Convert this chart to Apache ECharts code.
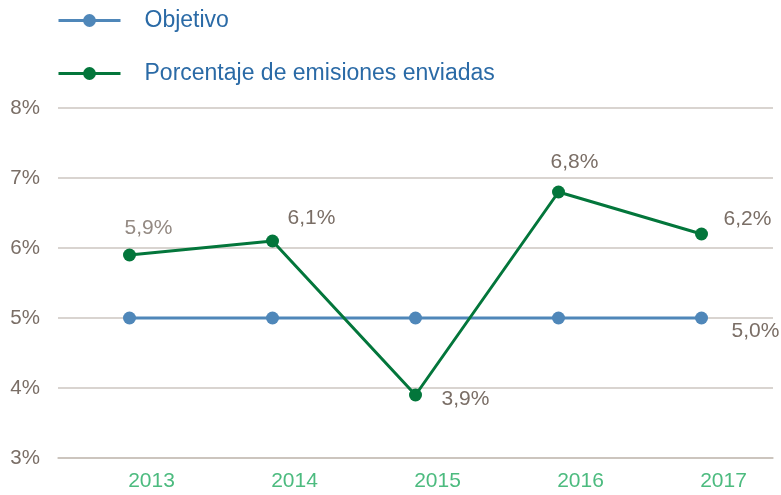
<!DOCTYPE html>
<html><head><meta charset="utf-8">
<script src="https://cdn.jsdelivr.net/npm/echarts@6/dist/echarts.min.js"></script>
<style>html,body{margin:0;padding:0;background:#fff}#c{width:781px;height:495px}</style>
</head><body><div id="c"></div>
<script>
const years = ['2013','2014','2015','2016','2017'];
const objetivo = [5.0, 5.0, 5.0, 5.0, 5.0];
const emisiones = [5.9, 6.1, 3.9, 6.8, 6.2];
const yTicks = [3, 4, 5, 6, 7, 8];
const FONT = 'Liberation Sans';
const fmt = v => v.toFixed(1).replace('.', ',') + '%';
const greenOffsets = [[19,-27],[39,-23],[50,4],[16,-30],[46,-15]];
const greenColors = ['#948a83','#7a6e66','#7a6e66','#7a6e66','#7a6e66'];

const chart = echarts.init(document.getElementById('c'));
chart.setOption({
  animation: false,
  legend: {
    orient: 'vertical', left: 57, top: 9, padding: 0,
    itemWidth: 62, itemHeight: 16, itemGap: 30,
    lineStyle: {width: 3},
    textStyle: {fontFamily: FONT, fontSize: 23, color: '#2a6aa6', padding: [0,0,0,19]},
    data: ['Objetivo', 'Porcentaje de emisiones enviadas']
  },
  grid: {left: 58, right: 8, top: 108, bottom: 37},
  xAxis: {
    type: 'category', data: years, boundaryGap: true,
    axisLine: {show: true, lineStyle: {color: '#c8c0b8', width: 1.5}},
    axisTick: {show: false},
    axisLabel: {fontFamily: FONT, fontSize: 21, color: '#4cbb7f', margin: 13, padding: [0,0,0,44]}
  },
  yAxis: {
    type: 'value', min: yTicks[0], max: yTicks[yTicks.length-1], interval: 1,
    axisLine: {show: false}, axisTick: {show: false},
    splitLine: {lineStyle: {color: '#cdc6c0', width: 1.5}},
    axisLabel: {fontFamily: FONT, fontSize: 20.5, color: '#7a6e66', margin: 18, formatter: v => v + '%'}
  },
  series: [
    {
      name: 'Objetivo', type: 'line', data: objetivo.map((v, i) => ({
        value: v,
        label: i === objetivo.length - 1 ? {show: true, position: 'inside', offset: [54, 13], formatter: fmt(v)} : {show: false}
      })),
      symbol: 'circle', symbolSize: 13,
      lineStyle: {color: '#4f87b9', width: 3},
      itemStyle: {color: '#4f87b9'},
      label: {fontFamily: FONT, fontSize: 21, color: '#7a6e66'},
      z: 2
    },
    {
      name: 'Porcentaje de emisiones enviadas', type: 'line', data: emisiones.map((v, i) => ({
        value: v,
        label: {show: true, position: 'inside', offset: greenOffsets[i], color: greenColors[i], formatter: fmt(v)}
      })),
      symbol: 'circle', symbolSize: 13,
      lineStyle: {color: '#03763b', width: 3},
      itemStyle: {color: '#03763b'},
      label: {fontFamily: FONT, fontSize: 21},
      z: 3
    }
  ]
});
</script></body></html>
